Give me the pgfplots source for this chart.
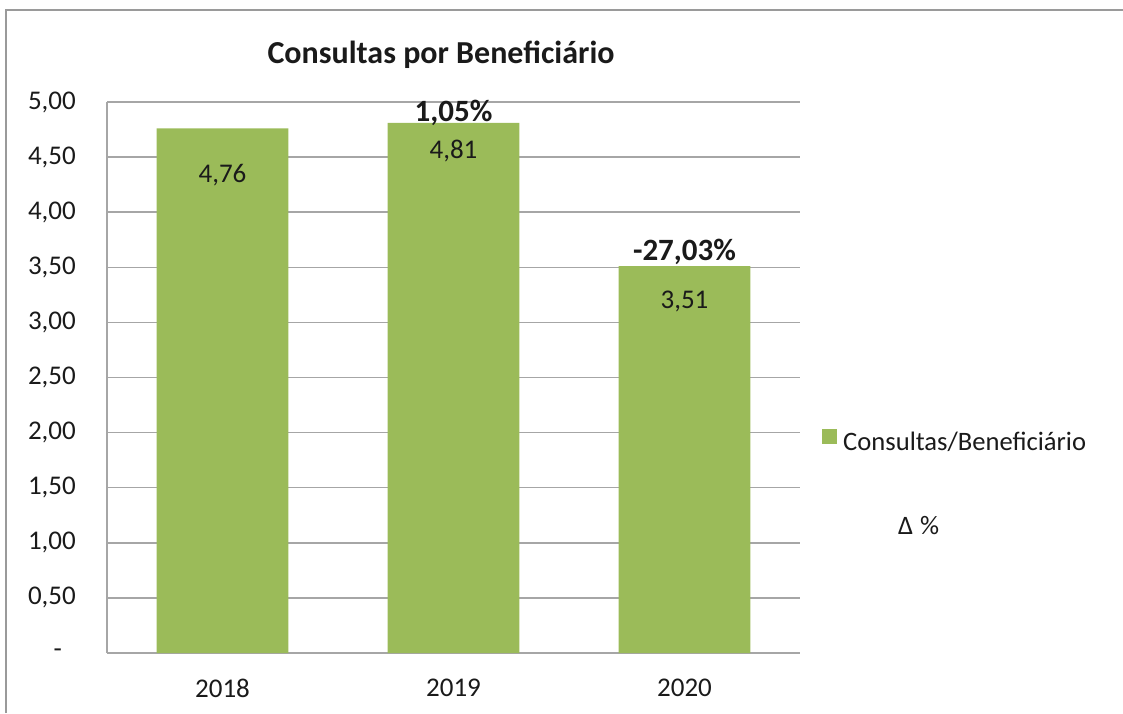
\documentclass[border=0pt]{standalone}
\usepackage{pgfplots}
\pgfplotsset{compat=1.18}
\usepackage{fontspec}
\setmainfont{Carlito}
\definecolor{bargreen}{HTML}{9BBB59}
\definecolor{gridgray}{HTML}{A6A6A6}
\definecolor{framegray}{HTML}{9A9A9A}
\definecolor{txt}{HTML}{1A1A1A}
\begin{document}
\begin{tikzpicture}[x=1pt,y=1pt]
\useasboundingbox (0,0) rectangle (1123,-713);
\draw[framegray, line width=2pt] (6,-713) -- (6,-10) -- (1123,-10);
\node[font=\fontsize{32}{38}\selectfont\bfseries, text=txt] at (441,-55) {Consultas por Beneficiário};
\begin{axis}[
  scale only axis, width=693pt, height=551pt,
  anchor=north west, at={(107pt,-102pt)},
  xmin=-0.5, xmax=2.5, ymin=0, ymax=5,
  xtick={0,1,2}, xticklabels={2018,2019,2020},
  ytick={0,0.5,1,1.5,2,2.5,3,3.5,4,4.5,5},
  yticklabels={{-\rule{14pt}{0pt}},{0,50},{1,00},{1,50},{2,00},{2,50},{3,00},{3,50},{4,00},{4,50},{5,00}},
  major tick length=0pt,
  axis lines*=left,
  axis line style={gridgray, line width=1.5pt},
  ymajorgrids, grid style={gridgray, line width=1.5pt},
  ticklabel style={font=\fontsize{27}{32}\selectfont, text=txt},
  yticklabel style={inner sep=0pt, anchor=east, xshift=-31pt},
  xticklabel style={inner sep=0pt, anchor=north, yshift=-26pt},
  /pgf/number format/assume math mode=true,
  legend style={draw=none, fill=none, inner sep=0pt, anchor=west, at={(1.0318,0.305)},
    nodes={inner sep=0pt, text height=19pt, text depth=6pt, font=\fontsize{26.6}{31}\selectfont, text=txt},
    row sep=59pt, /tikz/every odd column/.append style={column sep=6pt}},
  legend cell align=left,
]
\addplot[ybar, bar width=0.571, fill=bargreen, draw=none,
  legend image code/.code={\fill[bargreen] (0pt,0pt) rectangle (15pt,15pt);}]
  coordinates {(0,4.76) (1,4.81) (2,3.51)};
\addlegendentry{Consultas/Beneficiário}
\addlegendimage{legend image code/.code={}}
\addlegendentry{\hspace{55pt}Δ\hspace{7pt}\%}
\addplot[forget plot, draw=none, mark=none, point meta=explicit symbolic,
  nodes near coords, nodes near coords style={anchor=center, inner sep=0pt, font=\fontsize{27}{32}\selectfont, text=txt}]
  coordinates {(0,4.34) [{4,76}] (1,4.555) [{4,81}] (2,3.19) [{3,51}]};
\addplot[forget plot, draw=none, mark=none, point meta=explicit symbolic,
  nodes near coords, nodes near coords style={anchor=center, inner sep=0pt, font=\fontsize{31}{36}\selectfont\bfseries, text=txt}]
  coordinates {(1,4.90) [{1,05\%}] (2,3.64) [{-27,03\%}]};
\end{axis}
\end{tikzpicture}
\end{document}
